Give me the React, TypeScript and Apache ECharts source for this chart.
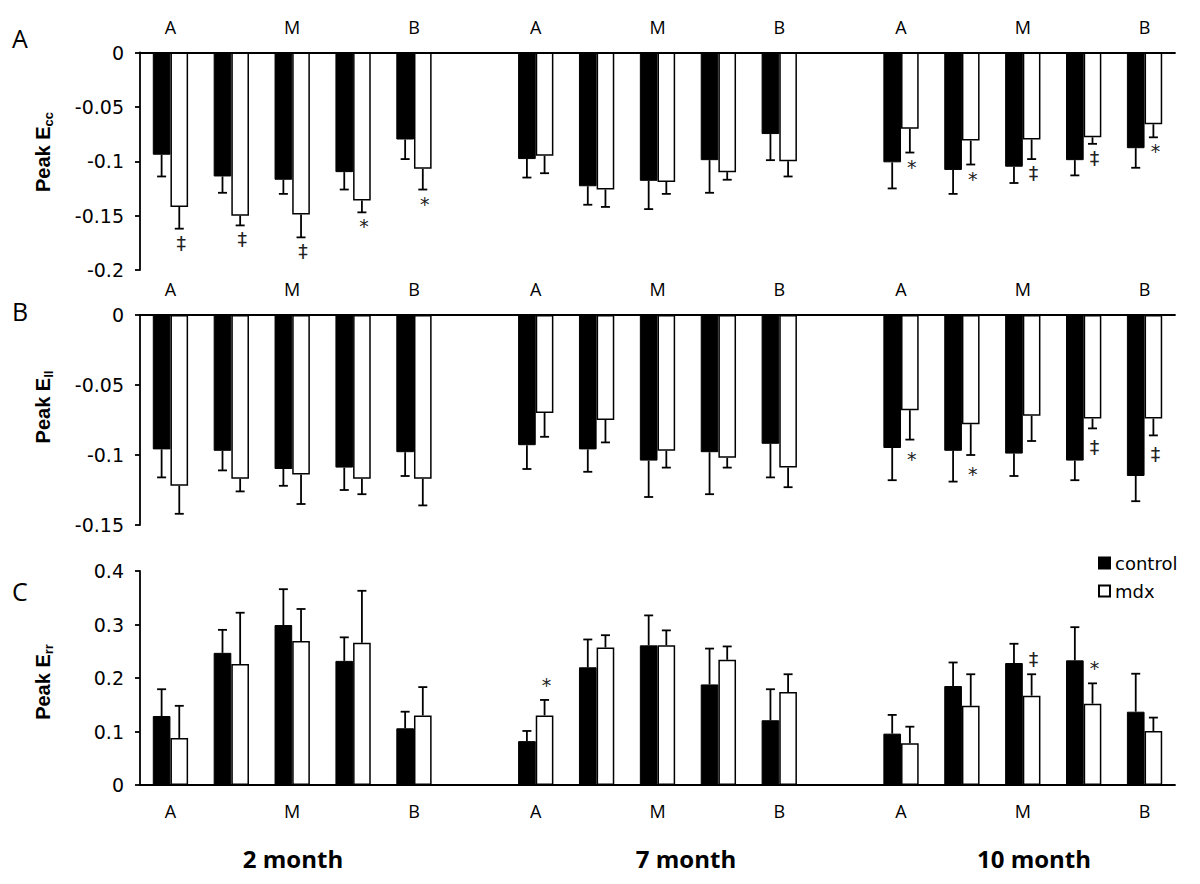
import React, { useEffect, useRef } from "react";
import * as echarts from "echarts";

// ---- data ----
const positionLabels = ["A", "", "M", "", "B", "", "A", "", "M", "", "B", "", "A", "", "M", "", "B"];
const ageGroups = ["2 month", "7 month", "10 month"];
const seriesNames = ["control", "mdx"];

// Panel A: Peak Ecc
const eccControl = [-0.094, -0.114, -0.117, -0.110, -0.080, null, -0.098, -0.123, -0.118, -0.099, -0.075, null, -0.101, -0.108, -0.105, -0.099, -0.088];
const eccControlSD = [0.020, 0.015, 0.013, 0.016, 0.018, null, 0.017, 0.017, 0.026, 0.030, 0.024, null, 0.024, 0.022, 0.015, 0.014, 0.018];
const eccMdx = [-0.142, -0.150, -0.149, -0.136, -0.107, null, -0.095, -0.126, -0.119, -0.110, -0.100, null, -0.070, -0.081, -0.080, -0.078, -0.066];
const eccMdxSD = [0.020, 0.009, 0.021, 0.011, 0.019, null, 0.016, 0.016, 0.011, 0.007, 0.014, null, 0.022, 0.022, 0.018, 0.006, 0.012];
const eccSig = ["‡", "‡", "‡", "*", "*", "", "", "", "", "", "", "", "*", "*", "‡", "‡", "*"];

// Panel B: Peak Ell
const ellControl = [-0.096, -0.097, -0.110, -0.109, -0.098, null, -0.093, -0.096, -0.104, -0.098, -0.092, null, -0.095, -0.097, -0.099, -0.104, -0.115];
const ellControlSD = [0.020, 0.014, 0.012, 0.016, 0.017, null, 0.017, 0.016, 0.026, 0.030, 0.024, null, 0.023, 0.022, 0.016, 0.014, 0.018];
const ellMdx = [-0.122, -0.117, -0.114, -0.117, -0.117, null, -0.070, -0.075, -0.097, -0.102, -0.109, null, -0.068, -0.078, -0.072, -0.074, -0.074];
const ellMdxSD = [0.020, 0.009, 0.021, 0.011, 0.019, null, 0.017, 0.016, 0.012, 0.007, 0.014, null, 0.021, 0.022, 0.018, 0.007, 0.012];
const ellSig = ["", "", "", "", "", "", "", "", "", "", "", "", "*", "*", "", "‡", "‡"];

// Panel C: Peak Err
const errControl = [0.129, 0.247, 0.299, 0.232, 0.106, null, 0.082, 0.220, 0.261, 0.188, 0.121, null, 0.096, 0.185, 0.228, 0.233, 0.137];
const errControlSD = [0.050, 0.043, 0.067, 0.044, 0.031, null, 0.019, 0.052, 0.056, 0.067, 0.058, null, 0.035, 0.044, 0.036, 0.062, 0.071];
const errMdx = [0.088, 0.226, 0.269, 0.266, 0.130, null, 0.130, 0.257, 0.261, 0.234, 0.174, null, 0.078, 0.148, 0.167, 0.152, 0.101];
const errMdxSD = [0.060, 0.096, 0.060, 0.097, 0.053, null, 0.029, 0.023, 0.028, 0.025, 0.033, null, 0.031, 0.059, 0.040, 0.038, 0.025];
const errSig = ["", "", "", "", "", "", "*", "", "", "", "", "", "", "", "‡", "*", ""];

const BAR_FRAC = 0.29;
const TICK_FONT = "DejaVu Sans";
const LABEL_FONT = "Open Sans";

const panels = [
  { letter: "A", sub: "cc", control: eccControl, cSD: eccControlSD, mdx: eccMdx, mSD: eccMdxSD, sig: eccSig, min: -0.2, max: 0, interval: 0.05, top: 52.5, height: 217.5, pos: "top", sign: -1, sigOff: 14, letterY: 40, titleY: 152 },
  { letter: "B", sub: "ll", control: ellControl, cSD: ellControlSD, mdx: ellMdx, mSD: ellMdxSD, sig: ellSig, min: -0.15, max: 0, interval: 0.05, top: 315, height: 210, pos: "top", sign: -1, sigOff: 19, letterY: 313, titleY: 407 },
  { letter: "C", sub: "rr", control: errControl, cSD: errControlSD, mdx: errMdx, mSD: errMdxSD, sig: errSig, min: 0, max: 0.4, interval: 0.1, top: 571, height: 214, pos: "bottom", sign: 1, sigOff: -15, letterY: 593, titleY: 682 },
];

function buildOption() {
  const grid: any[] = [];
  const xAxis: any[] = [];
  const yAxis: any[] = [];
  const series: any[] = [];
  const graphic: any[] = [];

  panels.forEach((p, k) => {
    grid.push({ left: 140, right: 25, top: p.top, height: p.height, containLabel: false });
    xAxis.push({
      type: "category",
      gridIndex: k,
      position: p.pos,
      data: positionLabels.map((_, i) => String(i)),
      axisLine: { onZero: false, lineStyle: { color: "#000", width: 1.8 } },
      axisTick: { show: false },
      axisLabel: {
        interval: 0,
        margin: 17,
        formatter: (_v: string, i: number) => positionLabels[i],
        color: "#000",
        fontFamily: LABEL_FONT,
        fontSize: 18,
      },
      splitLine: { show: false },
    });
    yAxis.push({
      type: "value",
      gridIndex: k,
      min: p.min,
      max: p.max,
      interval: p.interval,
      axisLine: { show: true, lineStyle: { color: "#000", width: 1.8 } },
      axisTick: { show: true, inside: false, length: 5, lineStyle: { color: "#000", width: 1.8 } },
      axisLabel: { margin: 16, color: "#000", fontFamily: TICK_FONT, fontSize: 19 },
      splitLine: { show: false },
    });
    series.push({
      name: seriesNames[0],
      type: "bar",
      xAxisIndex: k,
      yAxisIndex: k,
      barWidth: BAR_FRAC * 100 + "%",
      barGap: "0%",
      itemStyle: { color: "#000", borderColor: "#000", borderWidth: 1 },
      data: p.control.map((v) => (v == null ? "-" : v)),
    });
    series.push({
      name: seriesNames[1],
      type: "bar",
      xAxisIndex: k,
      yAxisIndex: k,
      barWidth: BAR_FRAC * 100 + "%",
      barGap: "0%",
      itemStyle: { color: "#fff", borderColor: "#000", borderWidth: 1.5 },
      data: p.mdx.map((v) => (v == null ? "-" : v)),
    });
    const idxs = p.control.map((v, i) => (v == null ? -1 : i)).filter((i) => i >= 0);
    series.push({
      type: "custom",
      xAxisIndex: k,
      yAxisIndex: k,
      clip: false,
      silent: true,
      itemStyle: { color: "#000" },
      data: idxs.map((i) => [i, p.control[i]]),
      renderItem: (_params: any, api: any) => {
        const idx = api.value(0);
        const c = api.coord([idx, 0]);
        const band = api.size([1, 0])[0];
        const bw = band * BAR_FRAC;
        const children: any[] = [];
        const draw = (x: number, v: number, sd: number) => {
          const end = v + p.sign * sd;
          const a = api.coord([idx, v]);
          const b = api.coord([idx, end]);
          children.push({ type: "line", shape: { x1: x, y1: a[1], x2: x, y2: b[1] }, style: { stroke: "#000", lineWidth: 1.8 } });
          children.push({ type: "line", shape: { x1: x - 4.5, y1: b[1], x2: x + 4.5, y2: b[1] }, style: { stroke: "#000", lineWidth: 1.8 } });
          return b[1];
        };
        draw(c[0] - bw / 2, p.control[idx] as number, p.cSD[idx] as number);
        const ym = draw(c[0] + bw / 2, p.mdx[idx] as number, p.mSD[idx] as number);
        const s = p.sig[idx];
        if (s) {
          children.push({
            type: "text",
            style: {
              text: s,
              x: c[0] + bw / 2 + 2,
              y: ym + p.sigOff,
              align: "center",
              verticalAlign: "middle",
              fontSize: 19,
              fontFamily: "DejaVu Sans",
              fill: "#222",
            },
          });
        }
        return { type: "group", children };
      },
    });

    graphic.push({
      type: "text",
      left: 12,
      top: p.letterY - 15,
      style: { text: p.letter, fontSize: 25, fontFamily: LABEL_FONT, fill: "#000" },
    });
    graphic.push({
      type: "text",
      x: 43,
      y: p.titleY,
      rotation: Math.PI / 2,
      style: {
        text: "{a|Peak E}{s|" + p.sub + "}",
        align: "center",
        verticalAlign: "middle",
        rich: {
          a: { fontSize: 20, fontWeight: "bold", fontFamily: "Liberation Sans", fill: "#000", lineHeight: 24, verticalAlign: "middle" },
          s: { fontSize: 13, fontWeight: "bold", fontFamily: "Liberation Sans", fill: "#000", lineHeight: 13, verticalAlign: "bottom" },
        },
      },
    });
  });

  const titleX = [293, 686, 1034];
  ageGroups.forEach((g, i) => {
    graphic.push({
      type: "text",
      x: titleX[i],
      y: 858,
      style: { text: g, align: "center", verticalAlign: "middle", fontSize: 24, fontWeight: "bold", fontFamily: LABEL_FONT, fill: "#000" },
    });
  });

  return {
    animation: false,
    backgroundColor: "#fff",
    grid,
    xAxis,
    yAxis,
    series,
    graphic,
    legend: {
      data: seriesNames,
      orient: "vertical",
      left: 1093,
      top: 549,
      itemWidth: 11,
      itemHeight: 11,
      itemGap: 10,
      selectedMode: false,
      icon: "rect",
      textStyle: { fontFamily: TICK_FONT, fontSize: 18, color: "#000" },
    },
  };
}

export default function App() {
  const ref = useRef<HTMLDivElement>(null);
  useEffect(() => {
    const chart = echarts.init(ref.current!, null, { renderer: "svg", width: 1200, height: 884 });
    chart.setOption(buildOption());
    return () => chart.dispose();
  }, []);
  return (
    <div
      ref={ref}
      style={{ position: "absolute", left: 0, top: 0, width: 1200, height: 884, background: "#fff" }}
    />
  );
}
